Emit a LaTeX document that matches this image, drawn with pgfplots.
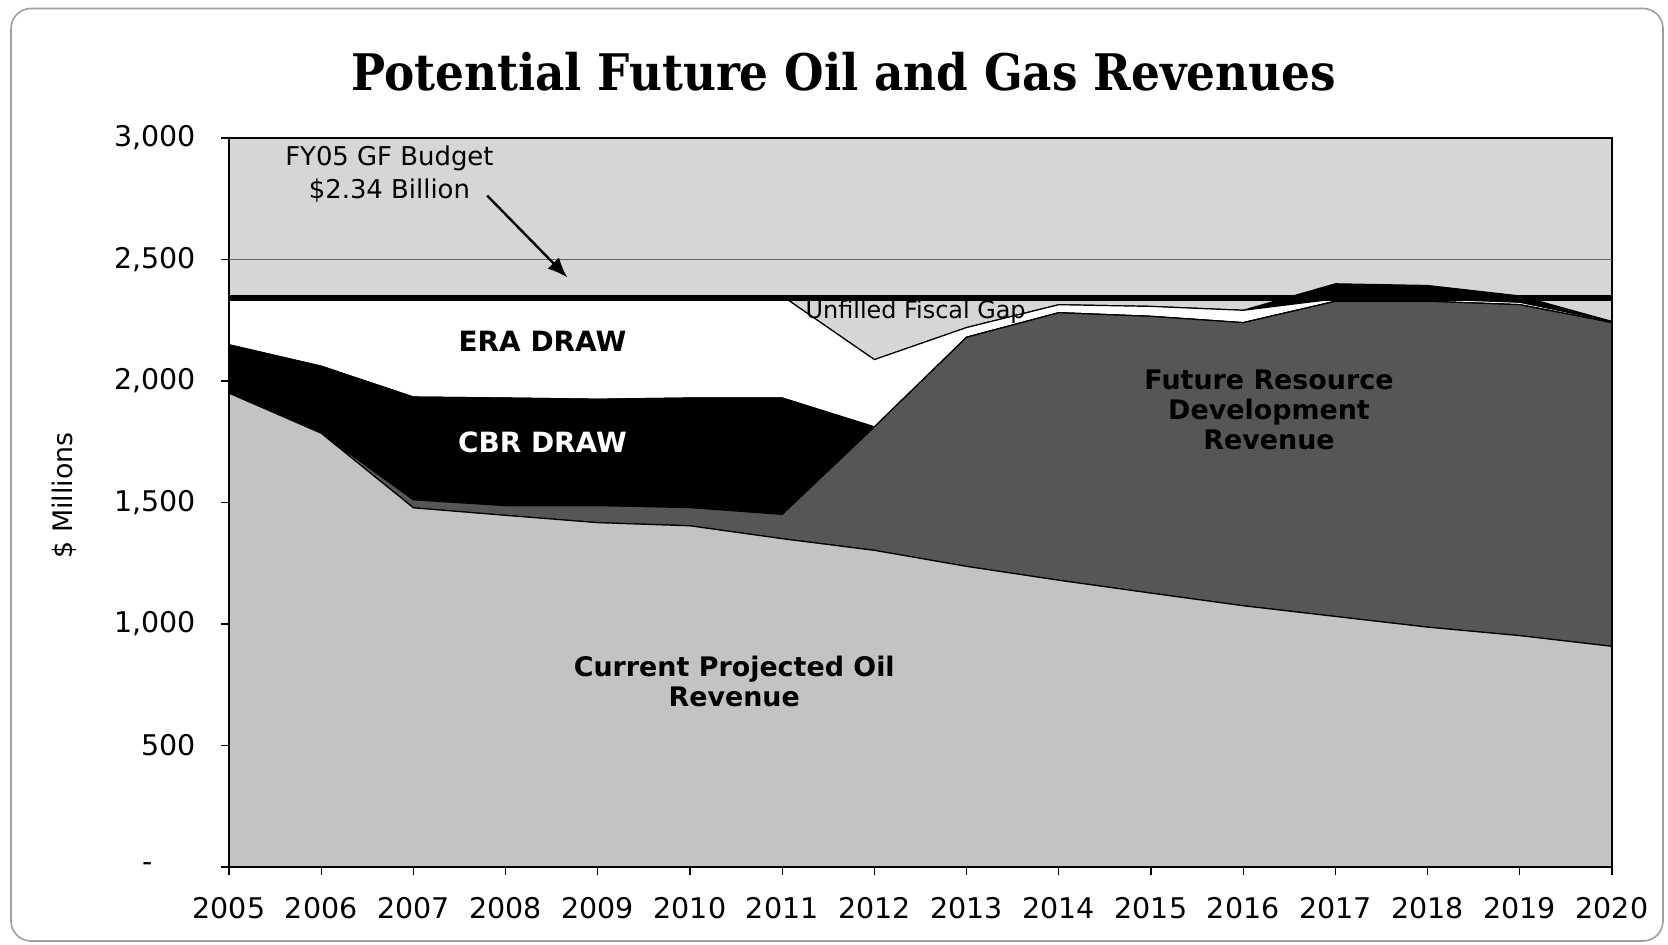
\documentclass[border=0pt]{standalone}
\usepackage{pgfplots}
\pgfplotsset{compat=1.18}
\usepackage{fontspec}
\setmainfont{DejaVu Sans}
\newfontfamily\titlefont{DejaVu Serif Condensed}
\usetikzlibrary{arrows.meta}

\definecolor{bgc}{HTML}{D6D6D6}
\definecolor{oilc}{HTML}{C3C3C3}
\definecolor{futc}{HTML}{565656}

\begin{document}
\begin{tikzpicture}
\useasboundingbox (-114.5bp,-39bp) rectangle (719.5bp,433.5bp);
\begin{axis}[
  scale only axis, width=691.5bp, height=364.5bp,
  xmin=2005, xmax=2020, ymin=0, ymax=3000,
  axis on top, axis background/.style={fill=bgc},
  stack plots=y,
  xtick={2005,2006,...,2020},
  xticklabels={2005,2006,2007,2008,2009,2010,2011,2012,2013,2014,2015,2016,2017,2018,2019,2020},
  ytick={0,500,1000,1500,2000,2500,3000},
  yticklabels={{-\rule{1.5em}{0pt}},{500},{1,000},{1,500},{2,000},{2,500},{3,000}},
  xtick pos=lower, ytick pos=left,
  tick align=outside, major tick length=4bp,
  tick style={black, line width=0.6bp},
  axis line style={black, line width=0.9bp},
  tick label style={font=\fontsize{14.3}{16}\selectfont},
  xticklabel style={yshift=-7.5bp},
  yticklabel style={xshift=-9bp},
  ylabel={\$ Millions},
  ylabel style={font=\fontsize{13.5}{16}\selectfont, at={(axis description cs:-0.119,0.51)}, anchor=center},
  title={Potential Future Oil and Gas Revenues},
  title style={font=\titlefont\bfseries\fontsize{25.3}{30}\selectfont, at={(axis description cs:0.4443,1)}, anchor=base, yshift=18bp},
  every axis plot/.append style={draw=black, line width=0.6bp},
]
% Current projected oil revenue
\addplot[fill=oilc] coordinates {(2005,1950) (2006,1785) (2007,1478) (2008,1447) (2009,1417) (2010,1404) (2011,1351) (2012,1303) (2013,1237) (2014,1180) (2015,1127) (2016,1075) (2017,1031) (2018,987) (2019,952) (2020,908)} \closedcycle;
% Future resource development revenue
\addplot[fill=futc] coordinates {(2005,0) (2006,0) (2007,33) (2008,40) (2009,70) (2010,75) (2011,100) (2012,508) (2013,943) (2014,1101) (2015,1139) (2016,1165) (2017,1297) (2018,1341) (2019,1362) (2020,1332)} \closedcycle;
% CBR draw
\addplot[fill=black] coordinates {(2005,199) (2006,276) (2007,423) (2008,443) (2009,438) (2010,451) (2011,479) (2012,0) (2013,0) (2014,0) (2015,0) (2016,0) (2017,0) (2018,0) (2019,0) (2020,0)} \closedcycle;
% ERA draw
\addplot[fill=white] coordinates {(2005,191) (2006,279) (2007,406) (2008,410) (2009,415) (2010,410) (2011,420) (2012,277) (2013,40) (2014,33) (2015,41) (2016,51) (2017,10) (2018,10) (2019,10) (2020,5)} \closedcycle;
% surplus above budget
\addplot[fill=black] coordinates {(2005,0) (2006,0) (2007,0) (2008,0) (2009,0) (2010,0) (2011,0) (2012,0) (2013,0) (2014,0) (2015,0) (2016,0) (2017,62) (2018,55) (2019,26) (2020,0)} \closedcycle;
\end{axis}
\begin{axis}[
  scale only axis, width=691.5bp, height=364.5bp,
  xmin=2005, xmax=2020, ymin=0, ymax=3000,
  hide axis, clip=false,
]
\addplot[gray!80!black, line width=0.8bp] coordinates {(2005,2500) (2020,2500)};
\addplot[black, line width=3bp] coordinates {(2005,2340) (2020,2340)};
\node[align=center, font=\fontsize{13}{16.5}\selectfont] at (axis cs:2006.74,2851) {FY05 GF Budget\\\$2.34 Billion};
\draw[black, line width=1.2bp, -{Latex[length=10bp,width=8bp]}] (axis cs:2007.8,2763) -- (axis cs:2008.67,2426);
\node[font=\bfseries\fontsize{14}{16}\selectfont] at (axis cs:2008.4,2162) {ERA DRAW};
\node[font=\bfseries\fontsize{14}{16}\selectfont, text=white] at (axis cs:2008.4,1746) {CBR DRAW};
\node[anchor=west, inner sep=0pt, font=\fontsize{12}{14}\selectfont] at (axis cs:2011.25,2285) {Unfilled Fiscal Gap};
\node[align=center, font=\bfseries\fontsize{13.5}{15}\selectfont] at (axis cs:2016.28,1882) {Future Resource\\Development\\Revenue};
\node[align=center, font=\bfseries\fontsize{13.5}{15}\selectfont] at (axis cs:2010.48,763) {Current Projected Oil\\Revenue};
\end{axis}
\draw[gray!75, line width=0.8bp, rounded corners=10bp] (-109bp,-37bp) rectangle (717bp,429.25bp);
\end{tikzpicture}
\end{document}
